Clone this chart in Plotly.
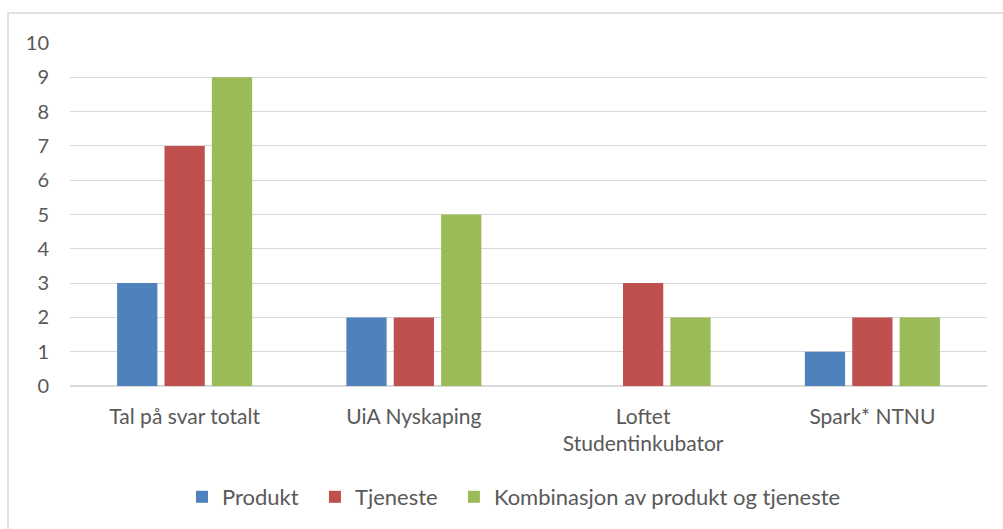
import plotly.graph_objects as go

categories = ["Tal på svar totalt", "UiA Nyskaping", "Loftet<br>Studentinkubator", "Spark* NTNU"]
produkt = [3, 2, 0, 1]
tjeneste = [7, 2, 3, 2]
kombinasjon = [9, 5, 2, 2]
series_names = ["Produkt", "Tjeneste", "Kombinasjon av produkt og tjeneste"]
colors = ["#4F81BD", "#C0504D", "#9BBB59"]

W, H = 1003, 529
L, R, T, B = 70, 16, 43, 143
pw, ph = W - L - R, H - T - B

fig = go.Figure()
pad = "\u00a0\u00a0"
for i, (name, vals, c) in enumerate(zip(series_names, [produkt, tjeneste, kombinasjon], colors)):
    label = name + (pad if i < len(series_names) - 1 else "")
    fig.add_trace(go.Bar(x=categories, y=vals, name=label, marker_color=c,
                         marker_line_width=0, hovertemplate=name + ": %{y}<extra></extra>"))

font = dict(family="Lato, sans-serif", size=21, color="#595959")
yfont = dict(family="Lato, sans-serif", size=20, color="#595959")
lfont = dict(family="Lato, sans-serif", size=22, color="#595959")

fig.update_layout(
    width=W, height=H,
    margin=dict(l=L, r=R, t=T, b=B, autoexpand=False),
    paper_bgcolor="white", plot_bgcolor="white",
    barmode="group", bargap=0.38, bargroupgap=0.15,
    font=font,
    showlegend=True,
    legend=dict(orientation="h", x=(182 - L) / pw, xanchor="left", y=(386 - 497) / ph, yanchor="middle",
                font=lfont, itemwidth=30, traceorder="normal"),
    xaxis=dict(showgrid=False, showline=False, ticks="", tickfont=font, automargin=False,
               ticklabelstandoff=16),
    yaxis=dict(range=[0, 10], dtick=1, showgrid=True, gridcolor="#D9D9D9", gridwidth=1,
               zeroline=True, zerolinecolor="#D9D9D9", showline=False, ticks="",
               tickfont=yfont, ticklabelstandoff=20, automargin=False),
)

fig.add_shape(type="rect", xref="paper", yref="paper",
              x0=(8 - L) / pw, x1=(1010 - L) / pw,
              y0=-(H + 10 - T - ph) / ph, y1=1 + (T - 13) / ph,
              line=dict(color="#D9D9D9", width=1.5), fillcolor="rgba(0,0,0,0)", layer="below")

fig.write_html("out.html", config={"displayModeBar": False},
               post_script="document.body.style.margin='0';document.body.style.padding='0';")
